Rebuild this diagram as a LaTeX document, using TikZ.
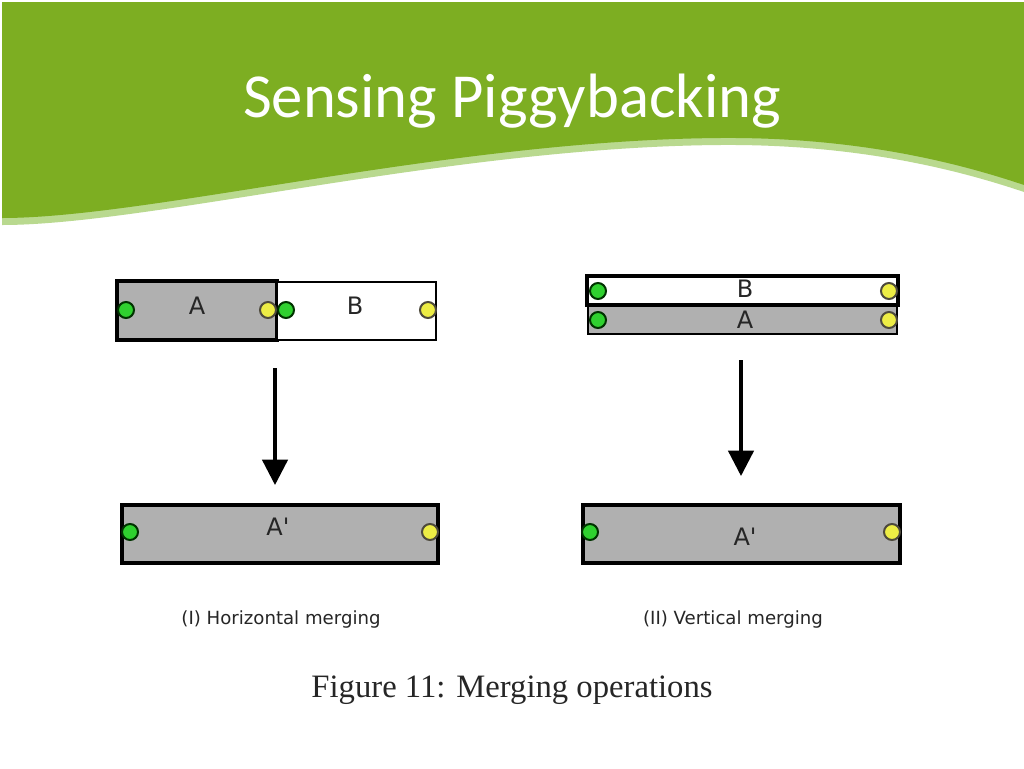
\documentclass[tikz,border=0pt]{standalone}
\usepackage{fontspec}
\setmainfont{Liberation Serif}
\newfontfamily\titlefont{Carlito}
\newfontfamily\labfont{DejaVu Sans}
\usetikzlibrary{arrows.meta}
\definecolor{hdrgreen}{HTML}{7DAE22}
\definecolor{hdrlight}{HTML}{B9D98F}
\definecolor{boxgray}{HTML}{B0B0B0}
\definecolor{dotgreen}{HTML}{2FD12F}
\definecolor{dotyellow}{HTML}{EDED45}
\tikzset{
  px/.style={x=0.75pt,y=-0.75pt},
  blk/.style={draw=black,inner sep=0pt,outer sep=0pt},
  graybox/.style={blk,fill=boxgray},
  whitebox/.style={blk,fill=white},
  thickb/.style={line width=2.8pt},
  thinb/.style={line width=1.5pt},
  dotg/.style={circle,draw=black!80!green,fill=dotgreen,line width=1.5pt,minimum size=12pt,inner sep=0pt},
  doty/.style={circle,draw=black!80!yellow,fill=dotyellow,line width=1.5pt,minimum size=12pt,inner sep=0pt},
  lab/.style={font=\labfont\fontsize{18}{18}\selectfont,text=black!85},
  captext/.style={font=\labfont\fontsize{13.6}{15}\selectfont,text=black!85},
  arr/.style={line width=2.5pt,-{Triangle[length=19pt,width=19pt]}}
}
\begin{document}
\begin{tikzpicture}[px]
\useasboundingbox (0,0) rectangle (1024,768);
\fill[white] (0,0) rectangle (1024,768);
% header
\fill[hdrlight] (2,2) -- (1024,2) -- (1024,192) .. controls (950,167) and (850,144) .. (720,145) .. controls (450,147) and (150,225) .. (2,225) -- cycle;
\fill[hdrgreen] (2,2) -- (1024,2) -- (1024,185) .. controls (950,160) and (850,137) .. (720,138) .. controls (450,140) and (150,218) .. (2,218) -- cycle;
\node[font=\titlefont\fontsize{47}{47}\selectfont,text=white] (title) at (512,101) {Sensing Piggybacking};

% (I) horizontal merging
\node[graybox,thickb,minimum width=120pt,minimum height=44pt] (hA) at (197,310.5) {};
\node[whitebox,thinb,minimum width=119pt,minimum height=43.5pt,anchor=west] (hB) at (hA.east) {};
\node[lab] (hAl) at (197,306) {A};
\node[lab] (hBl) at (355,306) {B};
\node[dotg] (hAg) at (126,310) {};
\node[doty] (hAy) at (268,310) {};
\node[dotg] (hBg) at (286,310) {};
\node[doty] (hBy) at (428,310) {};
\coordinate (h1) at (275,368);
\coordinate (h2) at (275,485);
\draw[arr] (h1) -- (h2);
\node[graybox,thickb,minimum width=237pt,minimum height=43.5pt] (hR) at (280,534) {};
\node[lab] (hRl) at (278,527) {A'};
\node[dotg] (hRg) at (130,532) {};
\node[doty] (hRy) at (430,532) {};
\node[captext] (hc) at (281,619) {(I) Horizontal merging};

% (II) vertical merging
\node[graybox,thinb,minimum width=232pt,minimum height=21pt] (vA) at (742.5,319.5) {};
\node[whitebox,thickb,minimum width=233pt,minimum height=22pt] (vB) at (742.5,290.5) {};
\node[lab] (vBl) at (745,289) {B};
\node[lab] (vAl) at (745,320) {A};
\node[dotg] (vBg) at (598,291) {};
\node[doty] (vBy) at (889,291) {};
\node[dotg] (vAg) at (598,320) {};
\node[doty] (vAy) at (889,320) {};
\coordinate (v1) at (741,360);
\coordinate (v2) at (741,476);
\draw[arr] (v1) -- (v2);
\node[graybox,thickb,minimum width=238pt,minimum height=43.5pt] (vR) at (741.5,534) {};
\node[lab] (vRl) at (745,537) {A'};
\node[dotg] (vRg) at (590,532) {};
\node[doty] (vRy) at (892,532) {};
\node[captext] (vc) at (733,619) {(II) Vertical merging};

\node[font=\fontsize{24.5}{26}\selectfont,text=black!85] (fig) at (512,690) {Figure 11: Merging operations};
\end{tikzpicture}
\end{document}
